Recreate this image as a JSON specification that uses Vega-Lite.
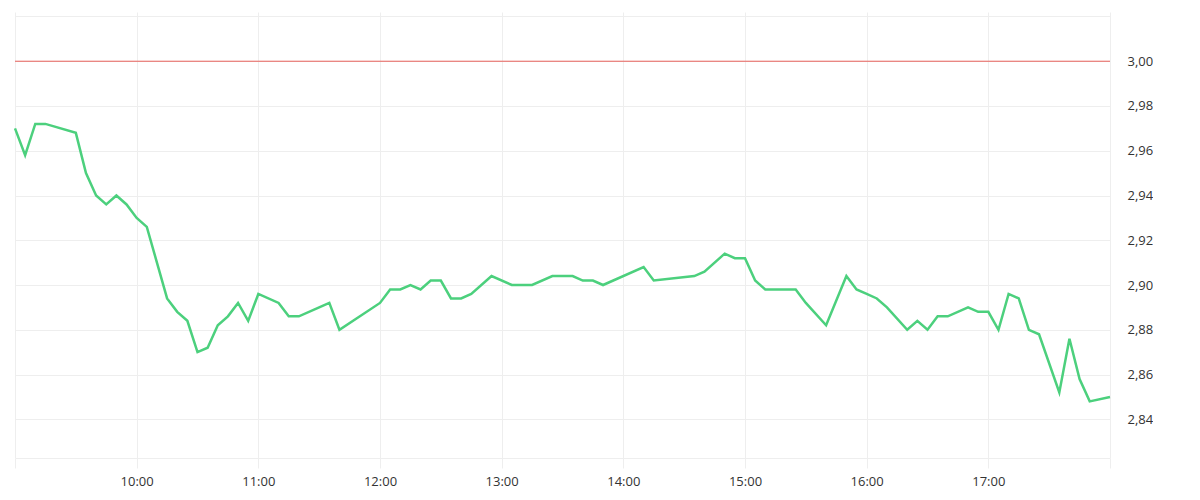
{
  "$schema": "https://vega.github.io/schema/vega-lite/v6.json",
  "width": 1095,
  "height": 446,
  "padding": {"left": 10, "top": 10, "right": 0, "bottom": 0},
  "autosize": {"type": "pad"},
  "background": "#ffffff",
  "config": {"view": {"stroke": null}, "font": "Open Sans"},
  "data": {
    "values": [
      {"t": "2024-01-01T09:00:00", "v": 2.970},
      {"t": "2024-01-01T09:05:00", "v": 2.958},
      {"t": "2024-01-01T09:10:00", "v": 2.972},
      {"t": "2024-01-01T09:15:00", "v": 2.972},
      {"t": "2024-01-01T09:30:00", "v": 2.968},
      {"t": "2024-01-01T09:35:00", "v": 2.950},
      {"t": "2024-01-01T09:40:00", "v": 2.940},
      {"t": "2024-01-01T09:45:00", "v": 2.936},
      {"t": "2024-01-01T09:50:00", "v": 2.940},
      {"t": "2024-01-01T09:55:00", "v": 2.936},
      {"t": "2024-01-01T10:00:00", "v": 2.930},
      {"t": "2024-01-01T10:05:00", "v": 2.926},
      {"t": "2024-01-01T10:10:00", "v": 2.910},
      {"t": "2024-01-01T10:15:00", "v": 2.894},
      {"t": "2024-01-01T10:20:00", "v": 2.888},
      {"t": "2024-01-01T10:25:00", "v": 2.884},
      {"t": "2024-01-01T10:30:00", "v": 2.870},
      {"t": "2024-01-01T10:35:00", "v": 2.872},
      {"t": "2024-01-01T10:40:00", "v": 2.882},
      {"t": "2024-01-01T10:45:00", "v": 2.886},
      {"t": "2024-01-01T10:50:00", "v": 2.892},
      {"t": "2024-01-01T10:55:00", "v": 2.884},
      {"t": "2024-01-01T11:00:00", "v": 2.896},
      {"t": "2024-01-01T11:10:00", "v": 2.892},
      {"t": "2024-01-01T11:15:00", "v": 2.886},
      {"t": "2024-01-01T11:20:00", "v": 2.886},
      {"t": "2024-01-01T11:30:00", "v": 2.890},
      {"t": "2024-01-01T11:35:00", "v": 2.892},
      {"t": "2024-01-01T11:40:00", "v": 2.880},
      {"t": "2024-01-01T12:00:00", "v": 2.892},
      {"t": "2024-01-01T12:05:00", "v": 2.898},
      {"t": "2024-01-01T12:10:00", "v": 2.898},
      {"t": "2024-01-01T12:15:00", "v": 2.900},
      {"t": "2024-01-01T12:20:00", "v": 2.898},
      {"t": "2024-01-01T12:25:00", "v": 2.902},
      {"t": "2024-01-01T12:30:00", "v": 2.902},
      {"t": "2024-01-01T12:35:00", "v": 2.894},
      {"t": "2024-01-01T12:40:00", "v": 2.894},
      {"t": "2024-01-01T12:45:00", "v": 2.896},
      {"t": "2024-01-01T12:55:00", "v": 2.904},
      {"t": "2024-01-01T13:05:00", "v": 2.900},
      {"t": "2024-01-01T13:15:00", "v": 2.900},
      {"t": "2024-01-01T13:25:00", "v": 2.904},
      {"t": "2024-01-01T13:35:00", "v": 2.904},
      {"t": "2024-01-01T13:40:00", "v": 2.902},
      {"t": "2024-01-01T13:45:00", "v": 2.902},
      {"t": "2024-01-01T13:50:00", "v": 2.900},
      {"t": "2024-01-01T14:10:00", "v": 2.908},
      {"t": "2024-01-01T14:15:00", "v": 2.902},
      {"t": "2024-01-01T14:35:00", "v": 2.904},
      {"t": "2024-01-01T14:40:00", "v": 2.906},
      {"t": "2024-01-01T14:50:00", "v": 2.914},
      {"t": "2024-01-01T14:55:00", "v": 2.912},
      {"t": "2024-01-01T15:00:00", "v": 2.912},
      {"t": "2024-01-01T15:05:00", "v": 2.902},
      {"t": "2024-01-01T15:10:00", "v": 2.898},
      {"t": "2024-01-01T15:25:00", "v": 2.898},
      {"t": "2024-01-01T15:30:00", "v": 2.892},
      {"t": "2024-01-01T15:40:00", "v": 2.882},
      {"t": "2024-01-01T15:50:00", "v": 2.904},
      {"t": "2024-01-01T15:55:00", "v": 2.898},
      {"t": "2024-01-01T16:00:00", "v": 2.896},
      {"t": "2024-01-01T16:05:00", "v": 2.894},
      {"t": "2024-01-01T16:10:00", "v": 2.890},
      {"t": "2024-01-01T16:20:00", "v": 2.880},
      {"t": "2024-01-01T16:25:00", "v": 2.884},
      {"t": "2024-01-01T16:30:00", "v": 2.880},
      {"t": "2024-01-01T16:35:00", "v": 2.886},
      {"t": "2024-01-01T16:40:00", "v": 2.886},
      {"t": "2024-01-01T16:50:00", "v": 2.890},
      {"t": "2024-01-01T16:55:00", "v": 2.888},
      {"t": "2024-01-01T17:00:00", "v": 2.888},
      {"t": "2024-01-01T17:05:00", "v": 2.880},
      {"t": "2024-01-01T17:10:00", "v": 2.896},
      {"t": "2024-01-01T17:15:00", "v": 2.894},
      {"t": "2024-01-01T17:20:00", "v": 2.880},
      {"t": "2024-01-01T17:25:00", "v": 2.878},
      {"t": "2024-01-01T17:35:00", "v": 2.852},
      {"t": "2024-01-01T17:40:00", "v": 2.876},
      {"t": "2024-01-01T17:45:00", "v": 2.858},
      {"t": "2024-01-01T17:50:00", "v": 2.848},
      {"t": "2024-01-01T18:00:00", "v": 2.850}
    ]
  },
  "layer": [
    {
      "data": {"values": [{"ref": 3.0}]},
      "mark": {"type": "rule", "color": "#e8605a", "strokeWidth": 1},
      "encoding": {"y": {"field": "ref", "type": "quantitative"}}
    },
    {
      "mark": {"type": "line", "color": "#4cd07d", "strokeWidth": 2.5, "interpolate": "linear"},
      "encoding": {
        "x": {
          "field": "t",
          "type": "temporal",
          "scale": {
            "domain": [
              {"year": 2024, "month": 1, "date": 1, "hours": 9},
              {"year": 2024, "month": 1, "date": 1, "hours": 18}
            ],
            "nice": false
          },
          "axis": {
            "title": null,
            "values": [
              {"year": 2024, "month": 1, "date": 1, "hours": 9},
              {"year": 2024, "month": 1, "date": 1, "hours": 10},
              {"year": 2024, "month": 1, "date": 1, "hours": 11},
              {"year": 2024, "month": 1, "date": 1, "hours": 12},
              {"year": 2024, "month": 1, "date": 1, "hours": 13},
              {"year": 2024, "month": 1, "date": 1, "hours": 14},
              {"year": 2024, "month": 1, "date": 1, "hours": 15},
              {"year": 2024, "month": 1, "date": 1, "hours": 16},
              {"year": 2024, "month": 1, "date": 1, "hours": 17},
              {"year": 2024, "month": 1, "date": 1, "hours": 18}
            ],
            "labelExpr": "(hours(datum.value) == 9 || hours(datum.value) == 18) ? '' : timeFormat(datum.value, '%H:%M')",
            "grid": true,
            "gridColor": "#eeeeee",
            "gridWidth": 1,
            "tickColor": "#eeeeee",
            "tickSize": 10,
            "domainColor": "#eeeeee",
            "labelColor": "#333333",
            "labelFontSize": 13,
            "labelPadding": 7,
            "labelFlush": false,
            "labelOverlap": false
          }
        },
        "y": {
          "field": "v",
          "type": "quantitative",
          "scale": {"domain": [2.8227, 3.022], "nice": false, "zero": false},
          "axis": {
            "title": null,
            "orient": "right",
            "values": [2.84, 2.86, 2.88, 2.9, 2.92, 2.94, 2.96, 2.98, 3.0, 3.02],
            "labelExpr": "datum.value > 3.01 ? '' : replace(format(datum.value, '.2f'), '.', ',')",
            "grid": true,
            "gridColor": "#eeeeee",
            "ticks": false,
            "domain": false,
            "labelColor": "#333333",
            "labelFontSize": 13,
            "labelPadding": 17,
            "labelOverlap": false,
            "labelBaseline": "middle"
          }
        }
      }
    }
  ]
}
